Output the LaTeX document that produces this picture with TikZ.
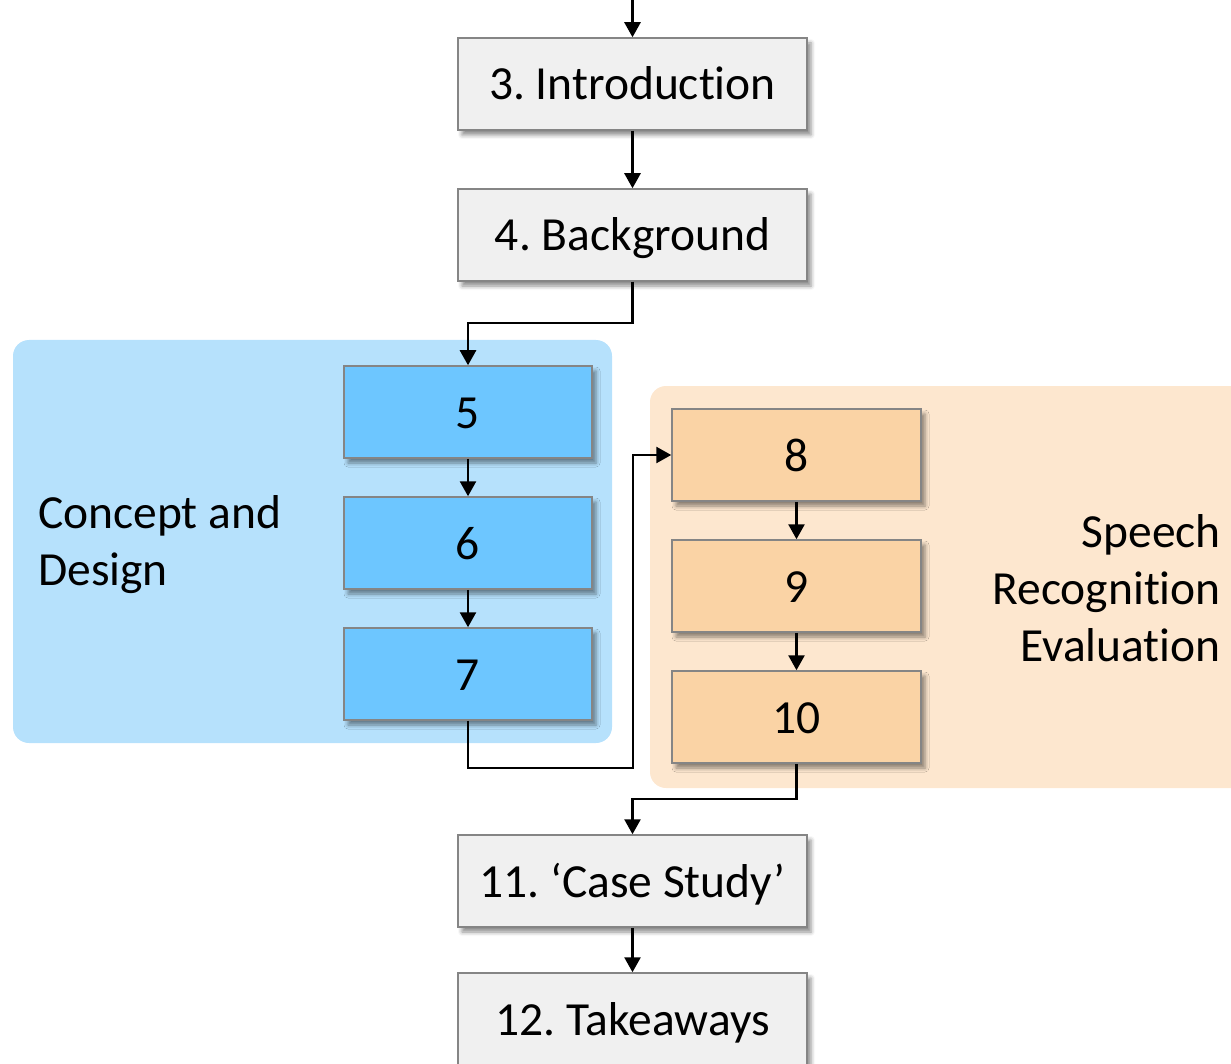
\documentclass[tikz,border=0pt]{standalone}
\usepackage{fontspec}
\setmainfont{Carlito}[Ligatures={NoCommon}]
\frenchspacing
\usetikzlibrary{arrows.meta,shadows.blur,positioning}
\definecolor{boxgray}{HTML}{F0F0F0}
\definecolor{boxblue}{HTML}{6DC6FF}
\definecolor{regblue}{HTML}{B6E1FC}
\definecolor{boxorange}{HTML}{FAD3A5}
\definecolor{regorange}{HTML}{FDE7CF}
\definecolor{edgegray}{HTML}{858585}
\tikzset{
  chap/.style={draw=edgegray, line width=1.5pt, inner sep=0pt, minimum height=92pt,
    text height=32pt, text depth=0pt,
    font=\fontsize{47.5}{57}\selectfont, text=black,
    blur shadow={shadow xshift=4pt, shadow yshift=-5pt, shadow blur radius=4pt, shadow opacity=45}},
  graybox/.style={chap, fill=boxgray, minimum width=349pt},
  bluebox/.style={chap, fill=boxblue, minimum width=248pt},
  orangebox/.style={chap, fill=boxorange, minimum width=249pt},
  conn/.style={line width=2.6pt, -{Triangle[width=16pt,length=15pt]}},
  region/.style={rounded corners=16pt},
  lbl/.style={font=\fontsize{47.5}{57}\selectfont, inner sep=0pt}
}
\begin{document}
\begin{tikzpicture}[x=1pt,y=-1pt]
\useasboundingbox (0,0) rectangle (1231,1064);
\clip (0,0) rectangle (1231,1064);
% regions
\fill[regblue, region] (13,340) rectangle (612,743);
\fill[regorange, region] (650,386) rectangle (1270,788);
% boxes
\node[graybox] (intro) at (632.5,84) {3. Introduction};
\node[graybox] (bg) at (632.5,235) {4. Background};
\node[bluebox] (c5) at (468,412) {5};
\node[bluebox] (c6) at (468,543) {6};
\node[bluebox] (c7) at (468,674) {7};
\node[orangebox] (c8) at (796.5,455) {8};
\node[orangebox] (c9) at (796.5,586) {9};
\node[orangebox] (c10) at (796.5,717) {10};
\node[graybox] (cs) at (632.5,881) {11. ‘Case Study’};
\node[graybox] (tk) at (632.5,1019) {12. Takeaways};
% labels
\node[lbl, align=left, anchor=west] (lconcept) at (38,545) {Concept and\\Design};
\node[lbl, align=right, anchor=east] (lspeech) at (1221,588) {Speech\\Recognition\\Evaluation};
% connectors
\coordinate (top) at (632.5,0);
\draw[conn] (top) -- (intro.north);
\draw[conn] (intro) -- (bg);
\draw[conn] (bg.south) |- (550,323) -| (c5.north);
\draw[conn] (c5) -- (c6);
\draw[conn] (c6) -- (c7);
\draw[conn] (c7.south) |- (633,768) |- (c8.west);
\draw[conn] (c8) -- (c9);
\draw[conn] (c9) -- (c10);
\draw[conn] (c10.south) |- (700,799) -| (cs.north);
\draw[conn] (cs) -- (tk);
\end{tikzpicture}
\end{document}
